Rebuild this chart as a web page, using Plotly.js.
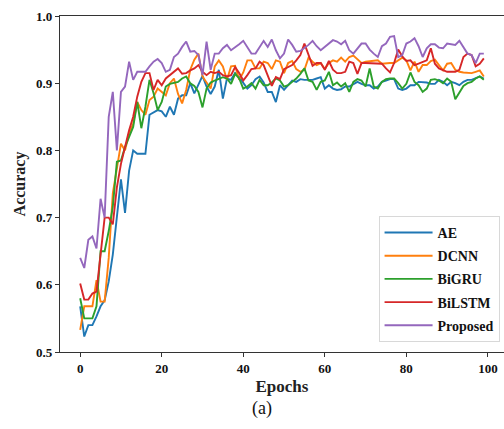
<!DOCTYPE html>
<html>
<head>
<meta charset="utf-8">
<script src="https://cdn.plot.ly/plotly-3.0.1.min.js"></script>
<style>html,body{margin:0;padding:0;background:#fff;}#chart{width:504px;height:429px;}</style>
</head>
<body>
<div id="chart"></div>
<script>
const seriesNames = ["AE", "DCNN", "BiGRU", "BiLSTM", "Proposed"];
const xTickVals = [0, 20, 40, 60, 80, 100];
const yTickVals = [0.5, 0.6, 0.7, 0.8, 0.9, 1.0];

const ae = [0.568,0.523,0.54,0.54,0.553,0.568,0.577,0.605,0.645,0.70,
0.757,0.707,0.77,0.80,0.795,0.795,0.795,0.853,0.856,0.86,
0.858,0.85,0.865,0.853,0.877,0.882,0.882,0.90,0.885,0.897,
0.911,0.895,0.884,0.895,0.92,0.877,0.907,0.905,0.915,0.909,
0.90,0.892,0.897,0.906,0.91,0.901,0.887,0.887,0.872,0.897,
0.89,0.897,0.904,0.902,0.906,0.905,0.905,0.905,0.907,0.909,
0.892,0.897,0.892,0.89,0.891,0.895,0.895,0.899,0.902,0.899,
0.897,0.897,0.892,0.895,0.902,0.904,0.906,0.906,0.892,0.89,
0.892,0.897,0.897,0.902,0.902,0.901,0.899,0.899,0.905,0.902,
0.897,0.902,0.90,0.897,0.902,0.905,0.905,0.907,0.91,0.907];

const dcnn = [0.533,0.568,0.568,0.568,0.607,0.575,0.575,0.64,0.736,0.77,
0.81,0.80,0.825,0.84,0.872,0.86,0.853,0.875,0.88,0.892,
0.887,0.882,0.90,0.907,0.884,0.87,0.89,0.92,0.935,0.944,
0.91,0.90,0.892,0.925,0.934,0.925,0.905,0.925,0.926,0.905,
0.916,0.934,0.934,0.922,0.922,0.932,0.93,0.921,0.934,0.932,
0.915,0.93,0.933,0.921,0.917,0.92,0.938,0.932,0.927,0.93,
0.921,0.93,0.934,0.932,0.938,0.932,0.939,0.941,0.935,0.93,
0.932,0.933,0.934,0.934,0.929,0.93,0.93,0.93,0.934,0.938,
0.934,0.919,0.932,0.917,0.927,0.927,0.933,0.935,0.927,0.919,
0.929,0.93,0.92,0.917,0.916,0.915,0.915,0.917,0.919,0.91];

const bigru = [0.58,0.55,0.55,0.55,0.568,0.65,0.65,0.68,0.716,0.783,
0.785,0.805,0.82,0.835,0.872,0.833,0.865,0.905,0.885,0.86,
0.872,0.895,0.899,0.90,0.902,0.907,0.91,0.90,0.896,0.887,
0.864,0.892,0.901,0.904,0.907,0.909,0.907,0.899,0.914,0.907,
0.892,0.895,0.90,0.892,0.905,0.897,0.897,0.901,0.907,0.904,
0.895,0.897,0.902,0.907,0.914,0.922,0.904,0.902,0.89,0.902,
0.904,0.917,0.897,0.901,0.895,0.90,0.887,0.902,0.906,0.904,
0.895,0.922,0.895,0.892,0.902,0.906,0.907,0.907,0.90,0.892,
0.899,0.916,0.902,0.897,0.887,0.892,0.905,0.906,0.904,0.90,
0.907,0.902,0.876,0.887,0.896,0.90,0.902,0.907,0.91,0.905];

const bilstm = [0.602,0.578,0.578,0.587,0.59,0.645,0.70,0.70,0.69,0.745,
0.78,0.805,0.83,0.85,0.88,0.902,0.915,0.915,0.89,0.905,
0.897,0.907,0.912,0.916,0.922,0.914,0.915,0.919,0.922,0.927,
0.917,0.912,0.917,0.915,0.917,0.912,0.91,0.912,0.924,0.915,
0.904,0.912,0.921,0.922,0.932,0.927,0.91,0.896,0.909,0.906,
0.921,0.924,0.927,0.934,0.942,0.959,0.942,0.926,0.93,0.93,
0.92,0.933,0.92,0.915,0.915,0.917,0.932,0.93,0.914,0.93,
0.93,0.93,0.93,0.93,0.929,0.922,0.916,0.93,0.95,0.94,
0.933,0.934,0.927,0.929,0.932,0.934,0.952,0.929,0.922,0.919,
0.917,0.917,0.917,0.92,0.939,0.944,0.942,0.925,0.929,0.937];

const proposed = [0.64,0.625,0.667,0.672,0.654,0.728,0.70,0.85,0.887,0.80,
0.887,0.895,0.932,0.905,0.917,0.917,0.917,0.925,0.932,0.936,
0.93,0.917,0.92,0.939,0.944,0.954,0.962,0.947,0.948,0.942,
0.912,0.962,0.92,0.944,0.944,0.952,0.957,0.949,0.953,0.958,
0.963,0.954,0.944,0.944,0.954,0.963,0.954,0.965,0.949,0.937,
0.944,0.965,0.957,0.947,0.948,0.952,0.957,0.963,0.955,0.949,
0.954,0.958,0.964,0.962,0.958,0.963,0.949,0.944,0.952,0.959,
0.959,0.95,0.944,0.939,0.955,0.959,0.969,0.97,0.939,0.942,
0.959,0.962,0.967,0.955,0.939,0.952,0.958,0.958,0.953,0.952,
0.959,0.958,0.957,0.963,0.954,0.944,0.942,0.93,0.944,0.944];

const allSeries = [ae, dcnn, bigru, bilstm, proposed];
const colors = ["#1f77b4", "#ff7f0e", "#2ca02c", "#d62728", "#9467bd"];
const epochs = ae.map((_, i) => i);

const traces = allSeries.map((s, k) => ({
  x: epochs, y: s, type: "scatter", mode: "lines", name: "<b>" + seriesNames[k] + "</b>",
  legendgroup: "g" + k,
  line: {color: colors[k], width: 1.9}
}));

const fontFam = "Liberation Serif, Times New Roman, serif";
const layout = {
  width: 504, height: 429,
  margin: {l: 60, r: 0, t: 16, b: 77},
  paper_bgcolor: "#fff", plot_bgcolor: "#fff",
  showlegend: true,
  legend: {
    x: 0.99, xanchor: "right", y: 0.405, yanchor: "top",
    bgcolor: "rgba(255,255,255,0.9)", bordercolor: "#d8d8d8", borderwidth: 1,
    font: {family: fontFam, size: 14, color: "#111"},
    itemwidth: 48, tracegroupgap: 2
  },
  xaxis: {
    range: [-4.95, 103.95], tickvals: xTickVals, ticks: "outside", ticklen: 4,
    tickcolor: "#333", showgrid: false, zeroline: false,
    showline: true, mirror: true, linecolor: "#333", linewidth: 1.2,
    tickfont: {family: fontFam, size: 13, color: "#111", weight: "bold"},
    title: {text: "<b>Epochs</b>", font: {family: fontFam, size: 17, color: "#222"}, standoff: 5}
  },
  yaxis: {
    range: [0.5, 1.0], tickvals: yTickVals, tickformat: ".1f", ticks: "outside", ticklen: 4,
    tickcolor: "#333", showgrid: false, zeroline: false,
    showline: true, mirror: true, linecolor: "#333", linewidth: 1.2,
    tickfont: {family: fontFam, size: 13, color: "#111", weight: "bold"},
    title: {text: "<b>Accuracy</b>", font: {family: fontFam, size: 16, color: "#222"}, standoff: 6}
  },
  annotations: [{
    text: "(a)", xref: "paper", yref: "paper", x: 0.455, y: -0.167,
    xanchor: "center", yanchor: "middle", showarrow: false,
    font: {family: fontFam, size: 18, color: "#111"}
  }]
};

Plotly.newPlot("chart", traces, layout, {displayModeBar: false, staticPlot: true});
</script>
</body>
</html>
